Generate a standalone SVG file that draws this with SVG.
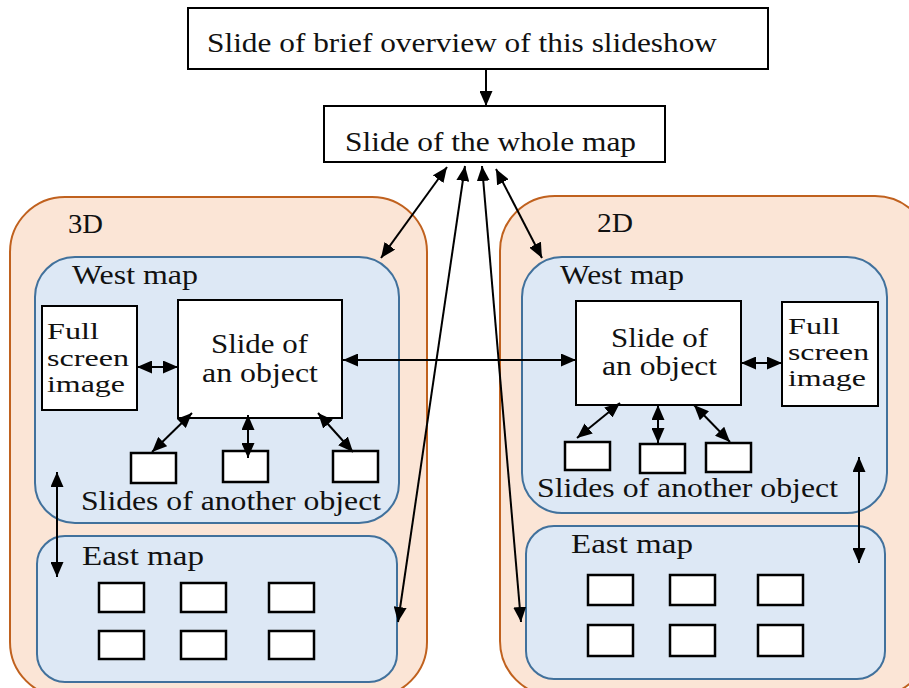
<svg xmlns="http://www.w3.org/2000/svg" width="909" height="688" viewBox="0 0 909 688">
<style>
text{font-family:"Liberation Serif","DejaVu Serif",serif;fill:#111;font-size:27px}
text.f{font-size:24px}
.box{fill:#fff;stroke:#000;stroke-width:2}
.sm{fill:#fff;stroke:#000;stroke-width:2.5}
.org{fill:#FBE5D6;stroke:#C0611E;stroke-width:2}
.blu{fill:#DDE8F5;stroke:#41719C;stroke-width:2}
.c line{stroke:#000;stroke-width:2}
.d{marker-start:url(#ah);marker-end:url(#ah)}
.s{marker-end:url(#ah)}
</style>
<defs>
<marker id="ah" markerUnits="userSpaceOnUse" viewBox="0 0 15 13" refX="15" refY="6.5" markerWidth="15" markerHeight="13" orient="auto-start-reverse">
<path d="M0,0 L15,6.5 L0,13 Z" fill="#000"/>
</marker>
</defs>
<rect width="909" height="688" fill="#fff"/>
<g id="top">
<rect class="box" x="188" y="8" width="580" height="61"/>
<text x="207" y="52" textLength="510" lengthAdjust="spacingAndGlyphs">Slide of brief overview of this slideshow</text>
</g>
<g id="whole">
<rect class="box" x="324" y="106" width="341" height="56"/>
<text x="345" y="151" textLength="291" lengthAdjust="spacingAndGlyphs">Slide of the whole map</text>
</g>
<g id="g3d">
<rect class="org" x="10" y="197" width="417" height="500" rx="55"/>
<text x="68" y="233" textLength="35" lengthAdjust="spacingAndGlyphs">3D</text>
</g>
<g id="g2d">
<rect class="org" x="500" y="196" width="430" height="500" rx="55"/>
<text x="597" y="232" textLength="36" lengthAdjust="spacingAndGlyphs">2D</text>
</g>
<g id="west3d">
<rect class="blu" x="35" y="257" width="364" height="266" rx="40"/>
<text x="72" y="284" textLength="126" lengthAdjust="spacingAndGlyphs">West map</text>
<text x="81" y="510" textLength="300" lengthAdjust="spacingAndGlyphs">Slides of another object</text>
</g>
<g id="east3d">
<rect class="blu" x="37" y="536" width="360" height="146" rx="28"/>
<text x="82" y="565" textLength="122" lengthAdjust="spacingAndGlyphs">East map</text>
</g>
<g id="west2d">
<rect class="blu" x="522" y="257" width="365" height="256" rx="40"/>
<text x="560" y="284" textLength="124" lengthAdjust="spacingAndGlyphs">West map</text>
<text x="537" y="497" textLength="301" lengthAdjust="spacingAndGlyphs">Slides of another object</text>
</g>
<g id="east2d">
<rect class="blu" x="526" y="526" width="359" height="153" rx="28"/>
<text x="571" y="553" textLength="122" lengthAdjust="spacingAndGlyphs">East map</text>
</g>
<g id="full3d">
<rect class="box" x="42" y="306" width="95" height="104"/>
<text class="f" x="47" y="339" textLength="52" lengthAdjust="spacingAndGlyphs">Full</text>
<text class="f" x="47" y="366" textLength="82" lengthAdjust="spacingAndGlyphs">screen</text>
<text class="f" x="47" y="392" textLength="78" lengthAdjust="spacingAndGlyphs">image</text>
</g>
<g id="obj3d">
<rect class="box" x="178" y="300" width="164" height="118"/>
<text x="211" y="353" textLength="97" lengthAdjust="spacingAndGlyphs">Slide of</text>
<text x="202" y="382" textLength="116" lengthAdjust="spacingAndGlyphs">an object</text>
</g>
<g id="obj2d">
<rect class="box" x="576" y="301" width="165" height="104"/>
<text x="611" y="347" textLength="97" lengthAdjust="spacingAndGlyphs">Slide of</text>
<text x="602" y="375" textLength="115" lengthAdjust="spacingAndGlyphs">an object</text>
</g>
<g id="full2d">
<rect class="box" x="782" y="302" width="96" height="104"/>
<text class="f" x="788" y="334" textLength="52" lengthAdjust="spacingAndGlyphs">Full</text>
<text class="f" x="788" y="360" textLength="81" lengthAdjust="spacingAndGlyphs">screen</text>
<text class="f" x="788" y="386" textLength="78" lengthAdjust="spacingAndGlyphs">image</text>
</g>
<g id="smallboxes">
<rect class="sm" x="131" y="453" width="45" height="30"/>
<rect class="sm" x="223" y="451" width="45" height="31"/>
<rect class="sm" x="333" y="451" width="45" height="31"/>
<rect class="sm" x="99" y="583" width="45" height="29"/>
<rect class="sm" x="181" y="583" width="45" height="29"/>
<rect class="sm" x="269" y="583" width="45" height="29"/>
<rect class="sm" x="99" y="631" width="45" height="28"/>
<rect class="sm" x="181" y="631" width="45" height="28"/>
<rect class="sm" x="269" y="631" width="45" height="28"/>
<rect class="sm" x="565" y="442" width="45" height="28"/>
<rect class="sm" x="640" y="444" width="45" height="29"/>
<rect class="sm" x="706" y="443" width="45" height="29"/>
<rect class="sm" x="588" y="575" width="45" height="30"/>
<rect class="sm" x="670" y="575" width="45" height="30"/>
<rect class="sm" x="758" y="575" width="45" height="30"/>
<rect class="sm" x="588" y="625" width="45" height="31"/>
<rect class="sm" x="670" y="625" width="45" height="31"/>
<rect class="sm" x="758" y="625" width="45" height="31"/>
</g>
<g id="connectors" class="c">
<line class="s" x1="486" y1="69" x2="486" y2="106"/>
<line class="d" x1="447" y1="167" x2="381" y2="258"/>
<line class="d" x1="465" y1="166" x2="398" y2="622"/>
<line class="d" x1="482" y1="166" x2="521" y2="622"/>
<line class="d" x1="496" y1="169" x2="542" y2="258"/>
<line class="d" x1="343" y1="360" x2="576" y2="360"/>
<line class="d" x1="137" y1="367" x2="178" y2="367"/>
<line class="d" x1="741" y1="363" x2="782" y2="363"/>
<line class="d" x1="192" y1="413" x2="152" y2="452"/>
<line class="d" x1="248" y1="415" x2="248" y2="458"/>
<line class="d" x1="318" y1="413" x2="353" y2="452"/>
<line class="d" x1="620" y1="403" x2="577" y2="438"/>
<line class="d" x1="658" y1="405" x2="658" y2="443"/>
<line class="d" x1="694" y1="405" x2="730" y2="442"/>
<line class="d" x1="57" y1="472" x2="57" y2="577"/>
<line class="d" x1="859" y1="457" x2="859" y2="563"/>
</g>
</svg>
